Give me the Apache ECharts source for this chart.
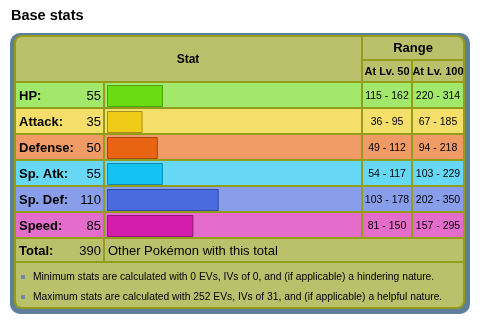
<!DOCTYPE html>
<html>
<head>
<meta charset="utf-8">
<script src="https://cdn.jsdelivr.net/npm/echarts@6/dist/echarts.min.js"></script>
<style>
  html, body { margin: 0; padding: 0; background: #fff; }
  #main { width: 480px; height: 322px; }
</style>
</head>
<body>
<div id="main"></div>
<script>
// data
const statNames = ["HP:", "Attack:", "Defense:", "Sp. Atk:", "Sp. Def:", "Speed:"];
const baseStats = [55, 35, 50, 55, 110, 85];
const rangeLv50 = ["115 - 162", "36 - 95", "49 - 112", "54 - 117", "103 - 178", "81 - 150"];
const rangeLv100 = ["220 - 314", "67 - 185", "94 - 218", "103 - 229", "202 - 350", "157 - 295"];
const footNotes = [
  "Minimum stats are calculated with 0 EVs, IVs of 0, and (if applicable) a hindering nature.",
  "Maximum stats are calculated with 252 EVs, IVs of 31, and (if applicable) a helpful nature."
];

// styles
const barColors = ["#69DC12", "#EFCC18", "#E86412", "#14C3F1", "#4A6ADF", "#D51DAD"];
const barBorders = ["#4E9E12", "#A8901A", "#A2470F", "#118AAB", "#35499C", "#961679"];
const rowColors = ["#A2E86B", "#F5DE69", "#F09A65", "#66D8F6", "#899EEA", "#E46CCA"];
const khaki = "#BBC16B";
const olive = "#949D1B";
const frame = "#5F7E9C";
const font = "Liberation Sans, Arial, sans-serif";

const myChart = echarts.init(document.getElementById("main"));

const rowTop = 83, rowStep = 26, rowH = 24;
const g = [];
const rect = (x, y, w, h, fill, r) => g.push({
  type: "rect", shape: { x: x, y: y, width: w, height: h, r: r || 0 },
  style: { fill: fill }, silent: true
});
const text = (x, y, t, opt) => g.push({
  type: "text", x: x, y: y, silent: true,
  style: Object.assign({ text: t, fill: "#000", font: "13px " + font, align: "left", verticalAlign: "middle" }, opt || {})
});

// frame
rect(10, 33, 460, 281, frame, 10);
rect(14, 35, 451, 274, olive, 8);
// header
rect(16, 37, 345, 44, khaki, [6, 0, 0, 0]);
rect(363, 37, 100, 22, khaki, [0, 6, 0, 0]);
rect(363, 61, 48, 20, khaki);
rect(413, 61, 50, 20, khaki);
text(188, 60, "Stat", { font: "bold 12px " + font, align: "center" });
text(413, 48, "Range", { font: "bold 13px " + font, align: "center" });
text(387, 72, "At Lv. 50", { font: "bold 11px " + font, align: "center" });
text(438, 72, "At Lv. 100", { font: "bold 11px " + font, align: "center" });

// stat rows
statNames.forEach((name, i) => {
  const y = rowTop + rowStep * i;
  const c = y + rowH / 2 + 1;
  rect(16, y, 87, rowH, rowColors[i]);
  rect(105, y, 256, rowH, rowColors[i]);
  rect(363, y, 48, rowH, rowColors[i]);
  rect(413, y, 50, rowH, rowColors[i]);
  text(19, c, name, { font: "bold 13px " + font });
  text(101, c, String(baseStats[i]), { align: "right" });
  text(387, c, rangeLv50[i], { font: "10.5px " + font, align: "center" });
  text(438, c, rangeLv100[i], { font: "10.5px " + font, align: "center" });
});

// total row
const totalY = rowTop + rowStep * statNames.length;
const total = baseStats.reduce((a, b) => a + b, 0);
rect(16, totalY, 87, 22, khaki);
rect(105, totalY, 358, 22, khaki);
text(19, totalY + 12, "Total:", { font: "bold 13px " + font });
text(101, totalY + 12, String(total), { align: "right" });
text(108, totalY + 12, "Other Pokémon with this total");

// footer
rect(16, totalY + 24, 447, 44, khaki, [0, 0, 6, 6]);
footNotes.forEach((t, i) => {
  const y = totalY + 38 + i * 20;
  rect(21, y - 2, 4, 4, "#6C8AA2");
  text(33, y, t, { font: "10.3px " + font });
});

g.push({
  type: "text", x: 11, y: 16, silent: true,
  style: { text: "Base stats", font: "bold 14.5px " + font, fill: "#000", verticalAlign: "middle" }
});

const option = {
  animation: false,
  graphic: g,
  grid: { left: 107, top: rowTop, width: 256, height: rowStep * statNames.length },
  xAxis: { type: "value", min: 0, max: 252, show: false },
  yAxis: { type: "category", data: statNames, inverse: true, show: false },
  series: [
    {
      type: "bar",
      barWidth: 22,
      z: 10,
      data: baseStats.map((v, i) => ({
        value: v,
        itemStyle: { color: barColors[i], borderColor: barBorders[i], borderWidth: 1 }
      }))
    }
  ]
};
myChart.setOption(option);
</script>
</body>
</html>
